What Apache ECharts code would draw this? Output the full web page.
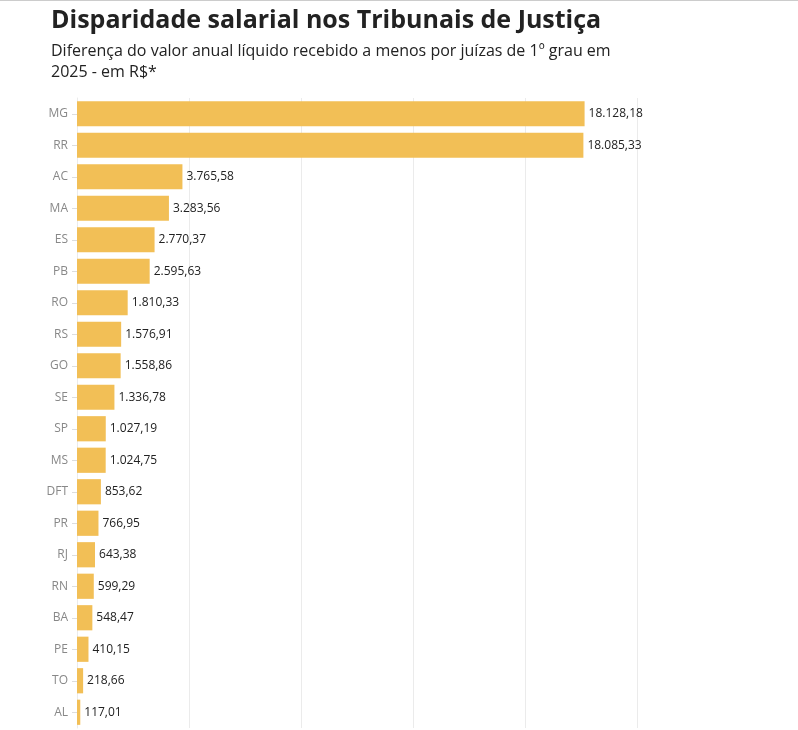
<!DOCTYPE html>
<html>
<head>
<meta charset="utf-8">
<script src="https://cdn.jsdelivr.net/npm/echarts@6/dist/echarts.min.js"></script>
<style>
html,body{margin:0;padding:0;background:#fff;}
#chart{width:798px;height:730px;border-top:1px solid #ccc;box-sizing:border-box;}
</style>
</head>
<body>
<div id="chart"></div>
<script>
// estados e valores
var states = ['MG','RR','AC','MA','ES','PB','RO','RS','GO','SE','SP','MS','DFT','PR','RJ','RN','BA','PE','TO','AL'];
var values = [18128.18,18085.33,3765.58,3283.56,2770.37,2595.63,1810.33,1576.91,1558.86,1336.78,1027.19,1024.75,853.62,766.95,643.38,599.29,548.47,410.15,218.66,117.01];

function fmt(v) {
    var parts = v.toFixed(2).split('.');
    return parts[0].replace(/\B(?=(\d{3})+(?!\d))/g, '.') + ',' + parts[1];
}

var chart = echarts.init(document.getElementById('chart'));
var option = {
    animation: false,
    textStyle: {fontFamily: 'Open Sans'},
    title: {
        text: 'Disparidade salarial nos Tribunais de Justiça',
        subtext: 'Diferença do valor anual líquido recebido a menos por juízas de 1º grau em\n2025 - em R$*',
        left: 46,
        top: 2,
        itemGap: 8,
        textStyle: {fontSize: 25, fontWeight: 'bold', color: '#222', fontFamily: 'Open Sans'},
        subtextStyle: {fontSize: 16, color: '#222', lineHeight: 21, fontFamily: 'Open Sans'}
    },
    grid: {left: 77, right: 161, top: 97, bottom: 2, containLabel: false},
    xAxis: {
        type: 'value',
        min: 0,
        max: 20000,
        interval: 4000,
        axisLabel: {show: false},
        axisLine: {show: false},
        axisTick: {show: false},
        splitLine: {lineStyle: {color: '#ebebeb'}}
    },
    yAxis: {
        type: 'category',
        inverse: true,
        data: states,
        axisLine: {show: true, lineStyle: {color: '#ebebeb'}},
        axisTick: {show: true, alignWithLabel: true, length: 5, lineStyle: {color: '#ddd'}},
        axisLabel: {color: '#888', fontSize: 12, margin: 9}
    },
    series: [{
        type: 'bar',
        data: values,
        barCategoryGap: '20%',
        itemStyle: {color: '#f2bf56'},
        label: {
            show: true,
            position: 'right',
            distance: 4,
            color: '#222',
            fontSize: 12,
            formatter: function (p) { return fmt(p.value); }
        }
    }]
};
chart.setOption(option);
window.onresize = function () { chart.resize(); };
</script>
</body>
</html>
